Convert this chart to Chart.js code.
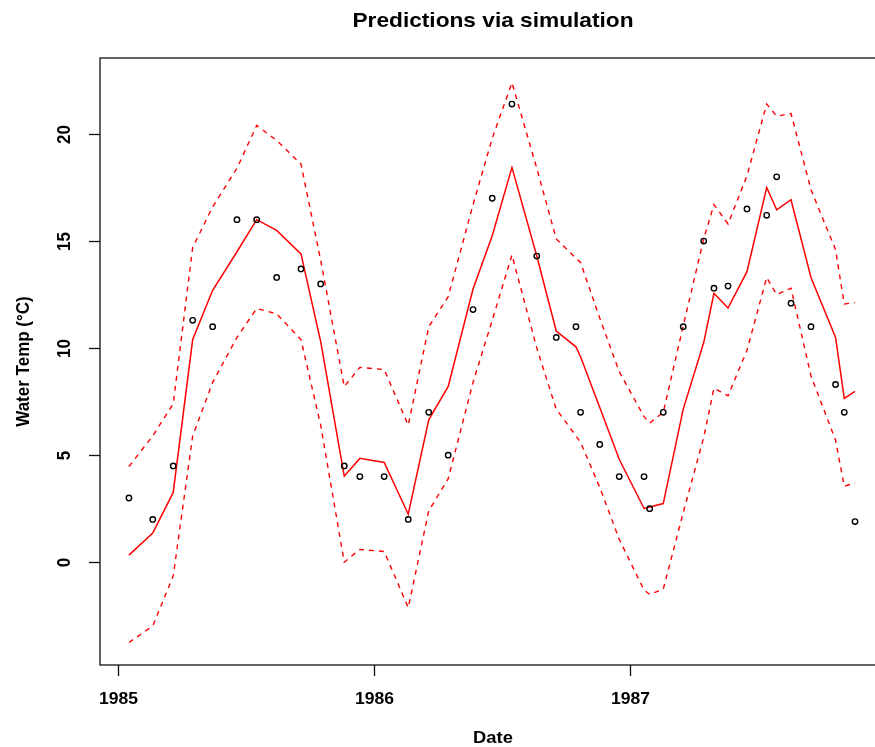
<!DOCTYPE html>
<html>
<head>
<meta charset="utf-8">
<title>Predictions via simulation</title>
<script src="https://cdn.jsdelivr.net/npm/chart.js@4/dist/chart.umd.min.js"></script>
<style>
  html, body { margin: 0; padding: 0; background: #fff; overflow: hidden; }
  #wrap { width: 875px; height: 747px; overflow: hidden; }
  canvas { display: block; }
</style>
</head>
<body>
<div id="wrap"><canvas id="chart" width="920" height="747" style="width:920px;height:747px"></canvas></div>
<script>
// Sampling dates, as decimal years
const sampleDates = [
  1985.041, 1985.134, 1985.214, 1985.290, 1985.368, 1985.463, 1985.540, 1985.618,
  1985.713, 1985.790, 1985.882, 1985.943, 1986.038, 1986.132, 1986.212, 1986.288,
  1986.385, 1986.460, 1986.537, 1986.634, 1986.710, 1986.787, 1986.805, 1986.880,
  1986.956, 1987.053, 1987.075, 1987.128, 1987.206, 1987.286, 1987.326, 1987.381,
  1987.455, 1987.532, 1987.571, 1987.627, 1987.705, 1987.801, 1987.835, 1987.877
];

// Measured water temperature (°C)
const observed = [
  3.0, 2.0, 4.5, 11.3, 11.0, 16.0, 16.0, 13.3, 13.7, 13.0,
  4.5, 4.0, 4.0, 2.0, 7.0, 5.0, 11.8, 17.0, 21.4, 14.3,
  10.5, 11.0, 7.0, 5.5, 4.0, 4.0, 2.5, 7.0, 11.0, 15.0,
  12.8, 12.9, 16.5, 16.2, 18.0, 12.1, 11.0, 8.3, 7.0, 1.9
];

// Mean of the simulated predictions
const predicted = [
  0.33, 1.36, 3.26, 10.4, 12.7, 14.5, 16.0, 15.5, 14.4, 10.3,
  4.02, 4.85, 4.66, 2.24, 6.65, 8.21, 12.76, 15.25, 18.44, 14.3,
  10.8, 10.06, 9.6, 7.23, 4.81, 2.51, 2.58, 2.74, 7.15, 10.26,
  12.56, 11.87, 13.57, 17.5, 16.46, 16.93, 13.3, 10.5, 7.65, 7.98
];

// Simulation interval bounds
const upperBound = [
  4.47, 5.9, 7.4, 14.7, 16.6, 18.4, 20.4, 19.7, 18.6, 14.1,
  8.2, 9.1, 9.0, 6.4, 11.0, 12.4, 16.7, 19.8, 22.4, 18.4,
  15.1, 14.2, 14.0, 11.4, 8.9, 6.8, 6.5, 7.0, 11.04, 15.1,
  16.7, 15.8, 18.05, 21.4, 20.83, 20.96, 17.4, 14.6, 12.06, 12.13
];
const lowerBound = [
  -3.75, -2.98, -0.64, 5.9, 8.4, 10.5, 11.85, 11.6, 10.4, 6.4,
  0.0, 0.6, 0.5, -2.12, 2.4, 3.9, 8.4, 11.3, 14.35, 10.0,
  7.15, 5.9, 5.6, 3.5, 1.07, -1.3, -1.5, -1.26, 2.32, 5.83,
  8.13, 7.77, 9.9, 13.3, 12.5, 12.8, 8.7, 5.7, 3.55, 3.7
];

// Axis ticks
const yearTicks = [1985, 1986, 1987];
const tempTicks = [0, 5, 10, 15, 20];

const toPoints = vals => vals.map((v, i) => ({ x: sampleDates[i], y: v }));

const FONT_FACE = 'Arial, Helvetica, sans-serif';

// draw a label, optionally widened and/or turned to read upwards
function drawText(ctx, text, px, py, rotate, stretch) {
  ctx.save();
  ctx.translate(px, py);
  ctx.scale(stretch || 1, 1);
  if (rotate) ctx.rotate(-Math.PI / 2);
  ctx.fillText(text, 0, 0);
  ctx.restore();
}

// Base-graphics style frame, ticks and labels
const baseAxes = {
  id: 'baseAxes',
  afterDraw(chart) {
    const { ctx, chartArea: a, scales } = chart;
    const xs = scales.x, ys = scales.y;
    ctx.save();
    ctx.strokeStyle = '#111';
    ctx.lineWidth = 1.3;
    ctx.strokeRect(a.left, a.top, a.right - a.left, a.bottom - a.top);

    ctx.fillStyle = '#000';
    ctx.textAlign = 'center';
    ctx.textBaseline = 'alphabetic';

    // x axis
    ctx.font = 'bold 17px ' + FONT_FACE;
    yearTicks.forEach(yr => {
      const px = Math.round(xs.getPixelForValue(yr)) + 0.5;
      ctx.beginPath();
      ctx.moveTo(px, a.bottom);
      ctx.lineTo(px, a.bottom + 11);
      ctx.stroke();
      drawText(ctx, String(yr), px, 704, false, 1.03);
    });

    // y axis
    tempTicks.forEach(t => {
      const py = Math.round(ys.getPixelForValue(t)) + 0.5;
      ctx.beginPath();
      ctx.moveTo(a.left - 11, py);
      ctx.lineTo(a.left, py);
      ctx.stroke();
      drawText(ctx, String(t), 70, py, true, 1.1);
    });

    // titles
    drawText(ctx, 'Date', (a.left + a.right) / 2, 743, false, 1.08);
    drawText(ctx, 'Water Temp (\u00B0C)', 29, (a.top + a.bottom) / 2, true, 1.1);
    ctx.font = 'bold 21px ' + FONT_FACE;
    drawText(ctx, 'Predictions via simulation', (a.left + a.right) / 2, 27, false, 1.08);
    ctx.restore();
  }
};

const bandLine = {
  borderColor: '#ff0000',
  borderWidth: 1.4,
  borderDash: [5, 5],
  pointRadius: 0,
  fill: false,
  tension: 0
};

new Chart(document.getElementById('chart'), {
  type: 'line',
  data: {
    datasets: [
      {
        label: 'Observed',
        data: toPoints(observed),
        showLine: false,
        pointStyle: 'circle',
        pointRadius: 2.7,
        pointBorderWidth: 1.4,
        pointBorderColor: '#000',
        pointBackgroundColor: 'rgba(0,0,0,0)'
      },
      {
        label: 'Predicted',
        data: toPoints(predicted),
        borderColor: '#ff0000',
        borderWidth: 1.5,
        pointRadius: 0,
        fill: false,
        tension: 0
      },
      Object.assign({ label: 'Upper', data: toPoints(upperBound) }, bandLine),
      Object.assign({ label: 'Lower', data: toPoints(lowerBound) }, bandLine)
    ]
  },
  options: {
    responsive: false,
    animation: false,
    events: [],
    layout: { padding: { left: 100, top: 58, right: 34, bottom: 82 } },
    plugins: {
      legend: { display: false },
      tooltip: { enabled: false },
      title: { display: false }
    },
    scales: {
      x: { type: 'linear', min: 1984.928, max: 1987.998, display: false },
      y: { type: 'linear', min: -4.8, max: 23.55, display: false }
    }
  },
  plugins: [baseAxes]
});
</script>
</body>
</html>
